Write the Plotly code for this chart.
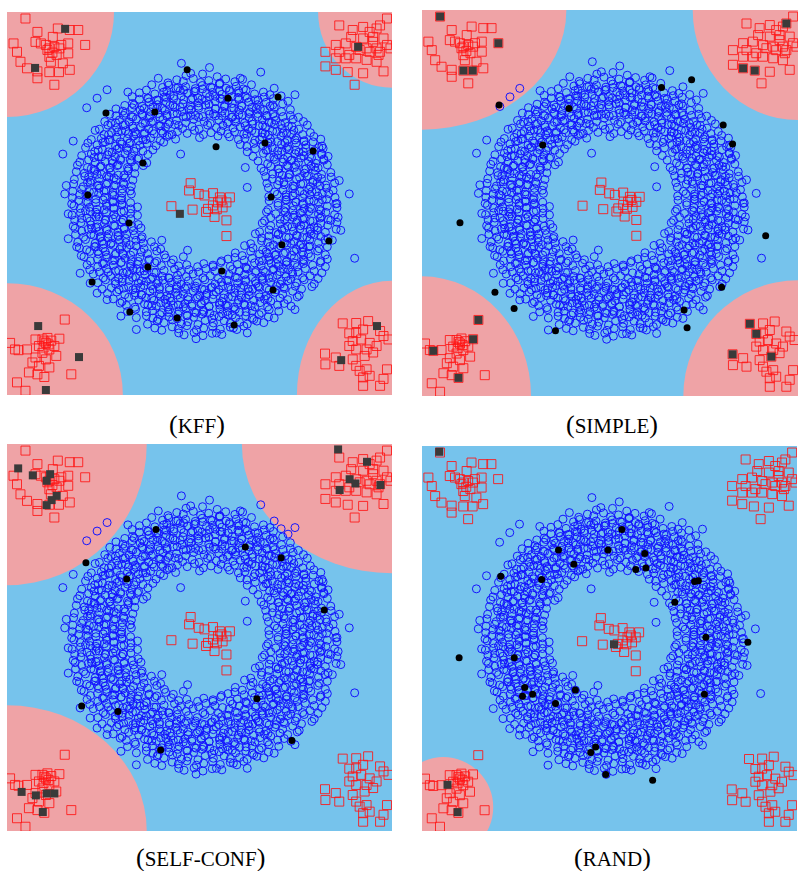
import plotly.graph_objects as go

# ---------------- data (panel units: x 0..100 left->right, y 0..100 top->bottom) -------------
panel_titles = ["KFF", "SIMPLE", "SELF-CONF", "RAND"]

# blue class: ring of points
ring_points = [
    (46.5,16.6),(50.8,16.2),(54.6,16.9),
    (41.8,18.5),(44.1,17.7),(45.8,18.1),(48.4,17.4),(50.3,18.4),(52.4,17.9),(55.2,18.6),(56.8,17.5),(59.2,18.2),(61.2,17.6),
    (37.6,19.0),(40.4,19.7),(42.0,19.1),(44.4,19.8),(46.4,19.5),(48.9,20.0),(50.7,19.2),(52.9,19.6),(55.2,18.9),(56.9,19.9),(59.5,19.4),(61.4,20.1),(63.5,19.0),
    (34.4,21.1),(36.2,20.4),(38.4,21.4),(40.7,20.9),(42.4,21.6),(45.0,20.5),(46.9,21.2),(49.0,20.6),(51.8,21.3),(53.4,21.0),(55.8,21.5),(57.8,20.7),(60.3,21.1),(62.1,20.4),(64.3,21.4),(66.6,20.9),(68.3,21.6),
    (32.5,22.1),(34.4,22.8),(36.5,22.5),(39.3,23.0),(40.9,22.2),(43.3,22.6),(45.3,21.9),(47.8,22.9),(49.6,22.4),(51.8,23.1),(54.1,22.0),(55.8,22.7),(58.4,22.1),(60.3,22.8),(62.4,22.5),(65.2,23.0),(66.8,22.2),(69.2,22.6),(71.2,21.9),
    (30.6,24.4),(32.6,23.9),(35.1,24.6),(36.9,23.5),(39.1,24.2),(41.4,23.6),(43.1,24.3),(45.7,24.0),(47.6,24.5),(49.7,23.7),(52.5,24.1),(54.1,23.4),(56.5,24.4),(58.5,23.9),(61.0,24.6),(62.8,23.5),(65.0,24.2),(67.3,23.6),(69.0,24.3),(71.6,24.0),
    (28.3,25.3),(30.1,25.9),(32.5,25.0),(34.6,25.6),(37.3,26.1),(38.9,25.2),(41.1,25.7),(43.6,24.9),(45.5,26.0),(47.8,25.5),(49.8,25.1),(52.4,25.8),(54.1,25.3),(55.9,25.9),(58.3,25.0),(60.4,25.6),(63.1,26.1),(64.7,25.2),(66.9,25.7),(69.4,24.9),(71.3,26.0),(73.6,25.5),
    (26.7,26.7),(28.3,27.1),(30.7,26.4),(32.7,27.4),(35.2,26.9),(37.0,27.6),(39.2,26.5),(41.5,27.2),(43.2,26.6),(45.8,27.3),(47.7,27.0),(49.8,27.5),(52.6,26.7),(54.2,27.1),(56.6,26.4),(58.6,27.4),(61.1,26.9),(62.9,27.6),(65.1,26.5),(67.4,27.2),(69.1,26.6),(71.7,27.3),(73.6,27.0),(75.7,27.5),
    (25.4,28.6),(27.0,29.1),(29.2,28.2),(31.7,28.7),(33.6,27.9),(35.9,29.0),(37.9,28.5),(40.5,28.1),(42.2,28.8),(44.0,28.3),(46.4,28.9),(48.5,28.0),(51.2,28.6),(52.8,29.1),(55.0,28.2),(57.5,28.7),(59.4,27.9),(61.7,29.0),(63.7,28.5),(66.3,28.1),(68.0,28.8),(69.8,28.3),(72.2,28.9),(74.3,28.0),(77.0,28.6),
    (24.0,30.6),(26.2,29.5),(28.5,30.2),(30.2,29.6),(32.8,30.3),(34.7,30.0),(36.8,30.5),(39.6,29.7),(41.2,30.1),(43.6,29.4),(45.6,30.4),(48.1,29.9),(49.9,30.6),(52.1,29.5),(54.4,30.2),(56.1,29.6),(58.7,30.3),(60.6,30.0),(62.7,30.5),(65.5,29.7),(67.1,30.1),(69.5,29.4),(71.5,30.4),(74.0,29.9),(75.8,30.6),(78.0,29.5),
    (22.9,30.9),(25.2,32.0),(27.2,31.5),(29.8,31.1),(31.5,31.8),(33.3,31.3),(35.7,31.9),(37.8,31.0),(40.5,31.6),(42.1,32.1),(44.3,31.2),(46.8,31.7),(48.7,30.9),(51.0,32.0),(53.0,31.5),(55.6,31.1),(57.3,31.8),(59.1,31.3),(61.5,31.9),(63.6,31.0),(66.3,31.6),(67.9,32.1),(70.1,31.2),(72.6,31.7),(74.5,30.9),(76.8,32.0),(78.8,31.5),
    (21.9,33.3),(24.5,33.0),(26.4,33.5),(28.5,32.7),(31.3,33.1),(32.9,32.4),(35.3,33.4),(37.3,32.9),(39.8,33.6),(41.6,32.5),(43.8,33.2),
    (57.8,32.6),(60.1,33.3),(61.8,33.0),(64.4,33.5),(66.3,32.7),(68.4,33.1),(71.2,32.4),(72.8,33.4),(75.2,32.9),(77.2,33.6),(79.7,32.5),(81.5,33.2),
    (21.0,34.2),(23.4,34.7),(25.5,33.9),(28.2,35.0),(29.8,34.5),(32.0,34.1),(34.5,34.8),(36.4,34.3),(38.7,34.9),(40.7,34.0),
    (60.6,34.6),(62.3,35.1),(64.1,34.3),(66.5,34.9),(68.6,34.0),(71.3,34.6),(72.9,35.1),(75.1,34.2),(77.6,34.7),(79.5,33.9),(81.8,35.0),
    (20.4,35.4),(22.8,36.4),(24.8,35.9),(27.3,36.6),(29.1,35.5),(31.3,36.2),(33.6,35.6),(35.3,36.3),(37.9,36.0),
    (62.4,36.5),(64.5,35.7),(67.3,36.1),(68.9,35.4),(71.3,36.4),(73.3,35.9),(75.8,36.6),(77.6,35.5),(79.8,36.2),(82.1,35.6),
    (19.4,37.5),(21.9,37.1),(23.8,37.8),(26.1,37.3),(28.1,37.9),(30.7,37.0),(32.4,37.6),(34.2,38.1),(36.6,37.2),
    (63.9,37.7),(66.6,36.9),(68.2,38.0),(70.4,37.3),(72.9,37.9),(74.8,37.0),(77.1,37.6),(79.1,38.1),(81.7,37.2),(83.4,37.7),
    (18.9,39.2),(21.2,38.6),(22.9,39.3),(25.5,39.0),(27.4,39.5),(29.5,38.7),(32.3,39.1),(33.9,38.4),(36.3,39.4),
    (65.2,38.9),(67.7,39.6),(69.5,38.5),(71.7,39.2),(74.0,38.6),(75.7,39.3),(78.3,39.0),(80.2,39.5),(82.3,38.7),
    (18.3,40.0),(20.9,40.6),(22.6,41.1),(24.4,40.2),(26.8,40.7),(28.9,39.9),(31.6,41.0),(33.2,40.5),(35.4,40.1),
    (66.0,40.8),(68.5,40.3),(70.4,40.9),(72.7,40.0),(74.7,40.6),(77.3,41.1),(79.0,40.2),(80.8,40.7),(83.2,39.9),
    (18.0,41.7),(20.1,42.1),(22.9,41.4),(24.5,42.4),(26.9,41.9),(28.9,42.6),(31.4,41.5),(33.2,42.2),
    (66.7,41.6),(69.0,42.3),(70.7,42.0),(73.3,42.5),(75.2,41.7),(77.3,42.1),(80.1,41.4),(81.7,42.4),(84.1,41.9),
    (17.5,43.7),(20.2,42.9),(21.8,44.0),(24.0,43.5),(26.5,43.1),(28.4,43.8),(30.7,43.3),(32.7,43.9),
    (67.2,43.0),(68.9,43.6),(70.7,44.1),(73.1,43.2),(75.2,43.7),(77.9,42.9),(79.5,44.0),(81.7,43.5),(84.2,43.1),
    (17.3,44.9),(19.8,45.6),(21.6,44.5),(23.8,45.2),(26.1,44.6),(27.8,45.3),(30.4,45.0),(32.3,45.5),
    (67.5,44.7),(70.3,45.1),(71.9,44.4),(74.3,45.4),(76.3,44.9),(78.8,45.6),(80.6,44.5),(82.8,45.2),(85.1,44.6),
    (17.1,46.8),(19.4,46.3),(21.4,46.9),(24.0,46.0),(25.7,46.6),(27.5,47.1),(29.9,46.2),(32.0,46.7),
    (67.9,45.9),(69.5,47.0),(71.7,46.5),(74.2,46.1),(76.1,46.8),(78.4,46.3),(80.4,46.9),(83.0,46.0),(84.7,46.6),
    (17.0,48.5),(18.9,47.7),(21.0,48.1),(23.8,47.4),(25.4,48.4),(27.8,47.9),(29.8,48.6),(32.3,47.5),
    (68.0,48.2),(70.2,47.6),(72.5,48.3),(74.2,48.0),(76.8,48.5),(78.7,47.7),(80.8,48.1),(83.6,47.4),(85.2,48.4),
    (16.8,50.1),(18.6,49.2),(21.0,49.7),(23.1,48.9),(25.8,50.0),(27.4,49.5),(29.6,49.1),(32.1,49.8),
    (68.1,49.3),(70.4,49.9),(72.4,49.0),(75.0,49.6),(76.7,50.1),(78.5,49.2),(80.9,49.7),(83.0,48.9),(85.7,50.0),
    (17.4,50.6),(19.0,51.3),(21.4,51.0),(23.4,51.5),(25.9,50.7),(27.7,51.1),(29.9,50.4),(32.2,51.4),(33.9,50.9),
    (67.8,51.6),(70.4,50.5),(72.3,51.2),(74.4,50.6),(77.2,51.3),(78.8,51.0),(81.2,51.5),(83.2,50.7),(85.7,51.1),
    (16.9,53.0),(19.1,52.5),(21.6,52.1),(23.5,52.8),(25.8,52.3),(27.8,52.9),(30.4,52.0),(32.1,52.6),(33.9,53.1),
    (67.4,52.2),(69.8,52.7),(71.9,51.9),(74.6,53.0),(76.2,52.5),(78.4,52.1),(80.9,52.8),(82.8,52.3),(85.1,52.9),
    (17.6,54.4),(19.4,53.9),(21.6,54.6),(23.9,53.5),(25.6,54.2),(28.2,53.6),(30.1,54.3),(32.2,54.0),
    (66.9,54.5),(68.5,53.7),(70.9,54.1),(72.9,53.4),(75.4,54.4),(77.2,53.9),(79.4,54.6),(81.7,53.5),(83.4,54.2),(86.0,53.6),
    (17.2,55.9),(19.2,55.0),(21.8,55.6),(23.5,56.1),(25.3,55.2),(27.7,55.7),(29.8,54.9),(32.5,56.0),(34.1,55.5),
    (66.3,55.1),(68.5,55.8),(71.0,55.3),(72.9,55.9),(75.2,55.0),(77.2,55.6),(79.8,56.1),(81.5,55.2),(83.3,55.7),(85.7,54.9),
    (17.7,56.5),(19.4,57.2),(22.0,56.6),(23.9,57.3),(26.0,57.0),(28.8,57.5),(30.4,56.7),(32.8,57.1),(34.8,56.4),
    (65.6,57.4),(68.1,56.9),(69.9,57.6),(72.1,56.5),(74.4,57.2),(76.1,56.6),(78.7,57.3),(80.6,57.0),(82.7,57.5),(85.5,56.7),
    (17.8,58.1),(19.9,58.8),(22.6,58.3),(24.2,58.9),(26.4,58.0),(28.9,58.6),(30.8,59.1),(33.1,58.2),(35.1,58.7),
    (64.5,57.9),(66.2,59.0),(68.0,58.5),(70.4,58.1),(72.5,58.8),(75.2,58.3),(76.8,58.9),(79.0,58.0),(81.5,58.6),(83.4,59.1),
    (18.4,60.1),(20.4,59.4),(22.9,60.4),(24.7,59.9),(26.9,60.6),(29.2,59.5),(30.9,60.2),(33.5,59.6),(35.4,60.3),(37.5,60.0),
    (63.3,60.5),(66.1,59.7),(67.7,60.1),(70.1,59.4),(72.1,60.4),(74.6,59.9),(76.4,60.6),(78.6,59.5),(80.9,60.2),(82.6,59.6),
    (18.8,61.6),(20.7,62.1),(23.0,61.2),(25.0,61.7),(27.6,60.9),(29.3,62.0),(31.1,61.5),(33.5,61.1),(35.6,61.8),(38.3,61.3),(39.9,61.9),
    (61.7,61.0),(63.9,61.6),(66.4,62.1),(68.3,61.2),(70.6,61.7),(72.6,60.9),(75.2,62.0),(76.9,61.5),(78.7,61.1),(81.1,61.8),(83.2,61.3),
    (19.3,63.6),(21.5,62.5),(23.8,63.2),(25.5,62.6),(28.1,63.3),(30.0,63.0),(32.1,63.5),(34.9,62.7),(36.5,63.1),(38.9,62.4),(40.9,63.4),
    (59.3,62.9),(61.1,63.6),(63.3,62.5),(65.6,63.2),(67.3,62.6),(69.9,63.3),(71.8,63.0),(73.9,63.5),(76.7,62.7),(78.3,63.1),(80.7,62.4),(82.7,63.4),
    (20.0,63.9),(21.7,65.0),(23.5,64.5),(25.9,64.1),(28.0,64.8),(30.7,64.3),(32.3,64.9),(34.5,64.0),(37.0,64.6),(38.9,65.1),(41.2,64.2),(43.2,64.7),(45.8,63.9),
    (55.7,65.0),(57.4,64.5),(59.2,64.1),(61.6,64.8),(63.7,64.3),(66.4,64.9),(68.0,64.0),(70.2,64.6),(72.7,65.1),(74.6,64.2),(76.9,64.7),(78.9,63.9),(81.5,65.0),(83.2,64.5),
    (20.8,66.0),(23.6,66.5),(25.2,65.7),(27.6,66.1),(29.6,65.4),(32.1,66.4),(33.9,65.9),(36.1,66.6),(38.4,65.5),(40.1,66.2),(42.7,65.6),(44.6,66.3),(46.7,66.0),(49.5,66.5),(51.1,65.7),(53.5,66.1),(55.5,65.4),(58.0,66.4),(59.8,65.9),(62.0,66.6),(64.3,65.5),(66.0,66.2),(68.6,65.6),(70.5,66.3),(72.6,66.0),(75.4,66.5),(77.0,65.7),(79.4,66.1),(81.4,65.4),
    (21.5,67.3),(24.0,67.9),(25.9,67.0),(28.2,67.6),(30.2,68.1),(32.8,67.2),(34.5,67.7),(36.3,66.9),(38.7,68.0),(40.8,67.5),(43.5,67.1),(45.1,67.8),(47.3,67.3),(49.8,67.9),(51.7,67.0),(54.0,67.6),(56.0,68.1),(58.6,67.2),(60.3,67.7),(62.1,66.9),(64.5,68.0),(66.6,67.5),(69.3,67.1),(70.9,67.8),(73.1,67.3),(75.6,67.9),(77.5,67.0),(79.8,67.6),(81.8,68.1),
    (22.4,68.4),(25.0,69.4),(26.9,68.9),(29.0,69.6),(31.8,68.5),(33.4,69.2),(35.8,68.6),(37.8,69.3),(40.3,69.0),(42.1,69.5),(44.3,68.7),(46.6,69.1),(48.3,68.4),(50.9,69.4),(52.8,68.9),(54.9,69.6),(57.7,68.5),(59.3,69.2),(61.7,68.6),(63.7,69.3),(66.2,69.0),(68.0,69.5),(70.2,68.7),(72.5,69.1),(74.2,68.4),(76.8,69.4),(78.7,68.9),(80.8,69.6),
    (23.6,70.7),(25.6,69.9),(28.2,71.0),(29.9,70.5),(31.7,70.1),(34.1,70.8),(36.2,70.3),(38.9,70.9),(40.5,70.0),(42.7,70.6),(45.2,71.1),(47.1,70.2),(49.4,70.7),(51.4,69.9),(54.0,71.0),(55.7,70.5),(57.5,70.1),(59.9,70.8),(62.0,70.3),(64.7,70.9),(66.3,70.0),(68.5,70.6),(71.0,71.1),(72.9,70.2),(75.2,70.7),(77.2,69.9),(79.8,71.0),
    (24.7,72.3),(27.1,72.0),(29.1,72.5),(31.6,71.7),(33.4,72.1),(35.6,71.4),(37.9,72.4),(39.6,71.9),(42.2,72.6),(44.1,71.5),(46.2,72.2),(49.0,71.6),(50.6,72.3),(53.0,72.0),(55.0,72.5),(57.5,71.7),(59.3,72.1),(61.5,71.4),(63.8,72.4),(65.5,71.9),(68.1,72.6),(70.0,71.5),(72.1,72.2),(74.9,71.6),(76.5,72.3),
    (26.1,73.5),(28.5,73.1),(30.6,73.8),(33.3,73.3),(34.9,73.9),(37.1,73.0),(39.6,73.6),(41.5,74.1),(43.8,73.2),(45.8,73.7),(48.4,72.9),(50.1,74.0),(51.9,73.5),(54.3,73.1),(56.4,73.8),(59.1,73.3),(60.7,73.9),(62.9,73.0),(65.4,73.6),(67.3,74.1),(69.6,73.2),(71.6,73.7),(74.2,72.9),(75.9,74.0),
    (27.6,74.9),(29.9,75.6),(31.6,74.5),(34.2,75.2),(36.1,74.6),(38.2,75.3),(41.0,75.0),(42.6,75.5),(45.0,74.7),(47.0,75.1),(49.5,74.4),(51.3,75.4),(53.5,74.9),(55.8,75.6),(57.5,74.5),(60.1,75.2),(62.0,74.6),(64.1,75.3),(66.9,75.0),(68.5,75.5),(70.9,74.7),(72.9,75.1),(75.4,74.4),
    (29.4,76.0),(31.0,76.6),(33.2,77.1),(35.7,76.2),(37.6,76.7),(39.9,75.9),(41.9,77.0),(44.5,76.5),(46.2,76.1),(48.0,76.8),(50.4,76.3),(52.5,76.9),(55.2,76.0),(56.8,76.6),(59.0,77.1),(61.5,76.2),(63.4,76.7),(65.7,75.9),(67.7,77.0),(70.3,76.5),(72.0,76.1),(73.8,76.8),
    (31.3,78.2),(33.4,77.6),(36.2,78.3),(37.8,78.0),(40.2,78.5),(42.2,77.7),(44.7,78.1),(46.5,77.4),(48.7,78.4),(51.0,77.9),(52.7,78.6),(55.3,77.5),(57.2,78.2),(59.3,77.6),(62.1,78.3),(63.7,78.0),(66.1,78.5),(68.1,77.7),(70.6,78.1),
    (33.6,79.8),(36.2,79.3),(37.9,79.9),(39.7,79.0),(42.1,79.6),(44.2,80.1),(46.9,79.2),(48.5,79.7),(50.7,78.9),(53.2,80.0),(55.1,79.5),(57.4,79.1),(59.4,79.8),(62.0,79.3),(63.7,79.9),(65.5,79.0),(67.9,79.6),
    (36.5,81.5),(39.0,80.7),(40.8,81.1),(43.0,80.4),(45.3,81.4),(47.0,80.9),(49.6,81.6),(51.5,80.5),(53.6,81.2),(56.4,80.6),(58.0,81.3),(60.4,81.0),(62.4,81.5),(64.9,80.7),(66.7,81.1),
    (40.2,83.1),(42.9,82.2),(44.5,82.7),(46.7,81.9),(49.2,83.0),(51.1,82.5),(53.4,82.1),(55.4,82.8),(58.0,82.3),(59.7,82.9),(61.5,82.0),
    (46.0,84.3),(48.6,83.7),(50.9,84.5),(53.3,83.9),(55.8,84.2),
]

# denser core of the ring (the darker band in the picture)
ring_core = [
    (41.5,20.6),(43.9,19.9),(45.9,20.4),(48.6,20.8),(50.8,20.1),(53.3,19.8),(55.2,20.7),(57.8,20.3),(60.1,20.6),
    (36.7,22.6),(38.9,23.0),(41.4,22.3),(43.3,22.0),(45.9,22.9),(48.2,22.5),(50.6,22.8),(52.6,22.1),(55.3,22.6),(57.5,23.0),(60.0,22.3),(61.9,22.0),(64.5,22.9),
    (33.0,24.3),(35.6,25.2),(37.9,24.8),(40.3,25.1),(42.3,24.4),(45.0,24.9),(47.2,25.3),(49.7,24.6),(51.6,24.3),(54.2,25.2),(56.5,24.8),(58.9,25.1),(60.9,24.4),(63.6,24.9),(65.8,25.3),(68.3,24.6),
    (30.3,27.0),(32.3,27.3),(35.0,26.6),(37.2,27.1),(39.7,27.5),(41.6,26.8),(44.2,26.5),(46.5,27.4),(48.9,27.0),(50.9,27.3),(53.6,26.6),(55.8,27.1),(58.3,27.5),(60.2,26.8),(62.8,26.5),(65.1,27.4),(67.5,27.0),(69.5,27.3),
    (28.2,28.9),(30.7,29.4),(32.6,29.8),(35.2,29.1),(37.5,28.8),(39.9,29.7),(41.9,29.3),(44.6,29.6),
    (57.2,29.1),(59.4,28.8),(61.9,29.7),(63.8,29.3),(66.4,29.6),(68.7,28.9),(71.1,29.4),(73.1,29.8),
    (26.4,32.0),(28.8,31.3),(30.8,31.0),(33.5,31.9),(35.7,31.5),(38.2,31.8),(40.1,31.1),
    (62.3,31.9),(64.6,31.5),(67.0,31.8),(69.0,31.1),(71.7,31.6),(73.9,32.0),
    (24.9,34.1),(26.8,33.4),(29.4,33.9),(31.7,34.3),(34.1,33.6),(36.1,33.3),
    (65.6,33.3),(67.8,34.2),(70.3,33.8),(72.2,34.1),(74.8,33.4),(77.1,33.9),
    (23.7,36.1),(26.4,36.5),(28.6,35.8),(31.1,35.5),(33.0,36.4),
    (67.7,36.0),(70.3,36.3),(72.6,35.6),(75.0,36.1),(77.0,36.5),
    (22.6,38.0),(24.6,37.8),(27.3,38.7),(29.5,38.3),(32.0,38.6),
    (69.3,37.9),(71.8,38.4),(73.7,38.8),(76.3,38.1),(78.6,37.8),
    (21.9,40.9),(24.2,40.5),(26.6,40.8),(28.6,40.1),(31.3,40.6),
    (70.6,41.0),(73.0,40.3),(75.0,40.0),(77.7,40.9),(79.9,40.5),
    (21.2,43.1),(23.4,42.4),(25.9,42.9),(27.8,43.3),(30.4,42.6),
    (71.5,42.6),(73.4,42.3),(76.0,43.2),(78.3,42.8),(80.7,43.1),
    (20.9,44.5),(23.5,45.4),(25.8,45.0),(28.2,45.3),(30.2,44.6),
    (72.0,45.1),(74.7,45.5),(76.9,44.8),(79.4,44.5),(81.3,45.4),
    (20.5,47.8),(22.5,47.1),(25.2,46.8),(27.4,47.7),(29.9,47.3),
    (72.5,47.7),(74.8,47.3),(77.2,47.6),(79.2,46.9),(81.9,47.4),
    (20.6,49.5),(23.1,49.8),(25.0,49.1),(27.6,49.6),(29.9,50.0),
    (72.6,49.1),(75.0,49.6),(77.0,50.0),(79.7,49.3),(81.9,49.0),
    (20.4,51.9),(23.1,52.3),(25.3,51.6),(27.8,51.3),(29.7,52.2),
    (72.3,52.2),(74.2,51.8),(76.8,52.1),(79.1,51.4),(81.5,51.9),
    (20.8,53.8),(23.1,53.5),(25.5,54.4),(27.5,54.0),(30.2,54.3),
    (72.1,54.3),(74.3,53.6),(76.8,54.1),(78.7,54.5),(81.3,53.8),
    (21.1,56.7),(23.1,56.3),(25.8,56.6),(28.0,55.9),(30.5,56.4),
    (71.4,56.8),(74.0,56.1),(76.3,55.8),(78.7,56.7),(80.7,56.3),
    (21.8,58.1),(24.3,58.6),(26.2,59.0),(28.8,58.3),(31.1,58.0),
    (70.5,58.0),(73.2,58.9),(75.4,58.5),(77.9,58.8),(79.8,58.1),
    (22.7,61.3),(25.1,60.6),(27.1,60.3),(29.8,61.2),(32.0,60.8),
    (69.2,60.8),(71.1,61.1),(73.7,60.4),(76.0,60.9),(78.4,61.3),
    (23.6,62.5),(25.8,63.4),(28.3,63.0),(30.2,63.3),(32.8,62.6),
    (67.6,63.1),(69.6,63.5),(72.3,62.8),(74.5,62.5),(77.0,63.4),
    (24.8,65.6),(27.4,64.9),(29.7,65.4),(32.1,65.8),(34.1,65.1),(36.8,64.8),
    (65.5,65.1),(68.0,64.8),(69.9,65.7),(72.5,65.3),(74.8,65.6),(77.2,64.9),
    (26.3,67.9),(29.0,67.5),(31.2,67.8),(33.7,67.1),(35.6,67.6),(38.2,68.0),
    (62.4,67.1),(64.7,67.6),(67.1,68.0),(69.1,67.3),(71.8,67.0),(74.0,67.9),
    (28.1,70.3),(30.0,69.6),(32.6,69.3),(34.9,70.2),(37.3,69.8),(39.3,70.1),(42.0,69.4),(44.2,69.9),
    (57.1,70.1),(59.8,69.4),(62.0,69.9),(64.5,70.3),(66.4,69.6),(69.0,69.3),(71.3,70.2),(73.7,69.8),
    (30.3,72.1),(32.7,72.5),(34.7,71.8),(37.4,71.5),(39.6,72.4),(42.1,72.0),(44.0,72.3),(46.6,71.6),(48.9,72.1),(51.3,72.5),
    (53.3,71.8),(56.0,71.5),(58.2,72.4),(60.7,72.0),(62.6,72.3),(65.2,71.6),(67.5,72.1),(69.9,72.5),(71.9,71.8),
    (33.1,74.0),(35.0,73.8),(37.6,74.7),(39.9,74.3),(42.3,74.6),(44.3,73.9),(47.0,74.4),(49.2,74.8),
    (51.7,74.0),(53.6,73.8),(56.2,74.7),(58.5,74.3),(60.9,74.6),(62.9,73.9),(65.6,74.4),(67.8,74.8),
    (36.6,76.5),(38.8,76.8),(41.3,76.1),(43.2,76.6),(45.8,77.0),(48.1,76.3),(50.5,76.0),(52.5,76.9),
    (55.2,76.5),(57.4,76.8),(59.9,76.1),(61.8,76.6),(64.4,77.0),
    (41.8,78.4),(44.4,78.9),(46.7,79.3),(49.1,78.6),(51.1,78.3),(53.8,79.2),(56.0,78.8),(58.5,79.1),(60.4,78.4),
]

ring_outliers = [
    (45.3,13.4),(52.6,14.5),(47.7,16.0),(65.9,15.7),(74.8,21.6),(31.4,20.9),(55.3,18.6),(45.1,37.1),(50.0,32.8),
    (54.8,32.4),(42.9,32.0),(14.5,37.1),(15.4,45.3),(15.0,47.5),(15.9,59.2),(18.1,61.3),(20.7,25.0),(88.9,47.5),
    (90.3,64.3),(86.7,57.0),(82.7,66.5),(81.8,37.1),(82.3,38.4),(33.6,82.9),(44.6,83.8),(49.1,85.3),(54.4,83.8),
    (62.4,83.8),(38.4,82.5),(69.4,79.9),(74.8,77.7),(40.2,59.6),(46.9,62.2),(62.4,45.8),(61.9,40.6),(34.9,59.2),(53.5,66.5),
    (23.4,22.5),(26.0,20.3),(73.0,23.3),(84.1,54.4),(81.0,35.4),(23.4,73.4),(26.0,75.1),(21.6,70.8),(19.0,68.2),
    (15.9,52.7),(17.2,33.7),(85.4,50.1),(86.3,44.0),(84.5,59.6),(79.2,71.7),(64.1,80.3),(58.8,82.5),(39.3,80.3),
    (29.6,79.4),(39.3,17.3),(60.6,17.3),(69.4,19.9),
]

# red class: four corner clusters and a small centre cluster
red_points = [
    (4.8,1.7),(20.3,8.6),(11.0,15.7),(13.5,15.7),
    (7.9,5.2),(13.2,4.3),(16.3,4.7),(18.5,4.7),(11.9,6.5),(7.4,7.8),(8.8,8.2),(10.1,8.6),(11.0,9.5),(12.3,9.1),
    (14.1,8.6),(15.9,8.2),(1.7,8.2),(2.6,10.4),(10.5,9.9),(11.0,11.7),(13.6,9.5),(15.9,10.8),(3.5,13.0),(5.2,14.7),
    (7.9,15.5),(11.4,13.0),(14.5,13.4),(16.3,15.1),(7.9,17.3),(12.3,19.0),(11.8,10.6),(12.9,11.2),
    (96.9,3.5),(85.4,15.1),(88.5,15.7),
    (86.3,3.5),(89.8,4.7),(92.5,3.9),(94.2,5.2),(96.0,4.3),(98.7,1.7),(89.4,6.5),(92.5,6.9),(95.1,6.5),(97.8,6.9),
    (85.4,8.6),(88.0,8.2),(90.7,9.1),(93.4,9.5),(96.0,9.5),(98.7,8.6),(82.7,10.4),(86.3,10.4),(88.9,11.2),(91.6,9.9),
    (94.2,10.4),(96.9,10.4),(99.6,9.5),(85.4,12.1),(88.0,12.1),(90.7,12.1),(93.4,12.5),(96.0,13.0),(82.7,14.2),
    (92.5,16.0),(97.8,15.5),(90.3,19.0),(95.1,7.8),(96.5,11.2),
    (15.0,80.3),(13.6,85.3),(3.0,88.3),(9.7,95.3),
    (0.8,86.4),(2.1,88.1),(5.2,88.1),(7.4,85.5),(8.3,87.2),(10.1,86.4),(9.2,89.0),(11.0,88.1),(12.3,87.2),(7.4,90.2),
    (10.1,90.7),(6.6,91.5),(8.3,92.4),(5.7,94.1),(7.9,94.6),(11.0,92.8),(2.6,96.7),(4.8,98.9),(16.7,94.6),(12.8,89.8),
    (9.2,85.5),(10.5,85.1),(9.7,86.0),(10.8,86.8),(9.5,87.6),(11.5,85.8),
    (87.2,81.3),(88.9,83.9),(82.6,89.2),(92.9,89.8),
    (90.7,81.2),(93.8,80.7),(96.9,83.3),(97.8,84.6),(90.7,83.8),(92.5,82.9),(89.8,85.9),(92.0,85.5),(94.2,86.4),
    (96.0,87.2),(88.9,87.2),(90.7,88.1),(93.4,88.1),(95.1,88.9),(85.4,90.2),(82.7,92.0),(86.3,92.4),(89.8,90.7),
    (90.7,92.4),(93.4,93.3),(91.6,93.7),(92.5,95.4),(94.2,95.0),(98.7,93.3),(97.8,95.8),(92.5,97.6),(96.9,97.6),(99.1,85.5),
    (47.7,44.7),(47.3,46.6),(49.8,47.5),(51.3,47.9),(53.5,47.3),(55.3,48.4),(57.9,48.4),(57.0,49.7),(54.8,49.7),
    (53.5,50.5),(52.2,51.4),(51.7,52.2),(53.9,53.5),(57.0,54.4),(57.0,58.5),(42.7,50.7),(48.2,51.6),(55.7,49.2),
    (56.0,51.0),(54.5,51.5),
]

# labelled (queried) points per panel
labeled_blue = {
    "KFF": [(46.8,15.1),(25.7,26.4),(38.4,26.1),(35.3,39.4),(21.0,47.8),(57.4,22.5),(70.4,22.2),(54.3,35.2),(67.0,34.2),
            (79.5,36.3),(68.6,48.3),(31.7,55.1),(36.6,66.6),(22.1,70.5),(31.9,78.3),(44.2,79.9),(71.4,60.8),(83.6,59.8),
            (55.8,67.6),(69.1,72.6),(59.0,81.7)],
    "SIMPLE": [(20.5,24.6),(39.1,25.5),(63.7,20.1),(71.7,18.1),(80.1,29.8),(82.6,34.7),(32.1,35.0),(10.1,55.1),(91.4,58.5),
               (79.7,71.8),(19.4,73.1),(24.5,77.3),(69.7,77.7),(70.5,82.3),(35.5,83.1)],
    "SELF-CONF": [(38.7,22.1),(61.9,26.6),(71.2,29.4),(20.5,30.7),(31.1,34.9),(82.4,42.9),(64.9,65.8),(19.4,67.7),
                  (28.8,69.1),(74.0,76.6),(39.9,79.1)],
    "RAND": [(53.3,21.7),(36.4,27.0),(49.6,27.0),(59.4,27.9),(40.5,30.7),(57.0,32.1),(59.7,31.7),(21.0,33.8),(31.9,34.7),
             (72.7,35.2),(73.7,35.0),(67.4,40.6),(75.7,49.7),(86.9,51.0),(9.9,55.0),(24.6,55.0),(27.4,62.7),(26.8,65.0),
             (29.5,64.5),(40.9,63.4),(35.6,66.9),(75.3,64.5),(46.3,78.2),(45.0,79.6),(49.0,85.3),(61.5,86.8)],
}
labeled_red = {
    "KFF": [(15.1,4.4),(7.3,14.6),(91.2,9.1),(44.9,52.7),(8.1,82.0),(18.7,90.1),(10.1,98.7),(96.1,82.0),(86.8,90.9)],
    "SIMPLE": [(4.8,1.7),(20.3,8.6),(11.0,15.7),(13.5,15.7),(96.9,3.5),(85.4,15.1),(88.5,15.7),(15.0,80.3),(13.6,85.3),
               (3.0,88.3),(9.7,95.3),(87.2,81.3),(88.9,83.9),(82.6,89.2),(92.9,89.8)],
    "SELF-CONF": [(2.9,6.3),(6.7,8.1),(11.2,7.8),(10.3,9.5),(12.9,13.4),(11.6,14.5),(10.3,15.8),(86.0,1.4),(93.5,4.6),
                  (89.0,9.1),(90.5,10.2),(86.4,11.9),(97.0,10.6),(3.8,89.9),(7.5,90.8),(10.3,90.3),(12.3,90.3),(9.3,95.1)],
    "RAND": [(4.6,1.5),(51.2,51.5),(6.8,88.0),(9.5,95.1)],
}

# decision regions of the red class: (centre x, centre y, radius x, radius y)
red_regions = {
    "KFF": [(0,0,27.8,27.4),(100,0,19.2,19.8),(0,100,30.1,29.2),(100,100,24.7,29.8)],
    "SIMPLE": [(0,0,38.4,31.0),(100,0,28.0,28.5),(0,100,29.0,31.0),(100,100,30.5,30.0)],
    "SELF-CONF": [(0,0,36.3,36.5),(100,0,39.0,33.4),(0,100,36.3,32.5)],
    "RAND": [(5.7,93.8,13.3,13.0)],
}

# ---------------- layout / styling ----------------
W, H = 798, 871
panel_px_x = [(7, 392), (422, 798), (7, 392), (422, 797)]
panel_px_y = [(12, 395), (10, 396), (444, 831), (446, 831)]
label_px = [(197, 424), (612, 424), (200, 857), (612, 857)]

BG_BLUE = "rgb(118,195,236)"
BG_PINK = "rgb(239,163,166)"

fig = go.Figure()
layout = dict(width=W, height=H, margin=dict(l=0, r=0, t=0, b=0),
              paper_bgcolor="white", plot_bgcolor=BG_BLUE, showlegend=False,
              shapes=[], annotations=[])

def unzip(pts):
    return [p[0] for p in pts], [p[1] for p in pts]

rx_, ry_ = unzip(ring_points + ring_core + ring_outliers)
redx, redy = unzip(red_points)

for i, key in enumerate(panel_titles):
    n = "" if i == 0 else str(i + 1)
    xa, ya = "x" + n, "y" + n
    (x0, x1), (y0, y1) = panel_px_x[i], panel_px_y[i]
    layout["xaxis" + n] = dict(domain=[x0 / W, x1 / W], range=[0, 100], visible=False,
                               anchor=ya, fixedrange=True)
    layout["yaxis" + n] = dict(domain=[1 - y1 / H, 1 - y0 / H], range=[100, 0], visible=False,
                               anchor=xa, fixedrange=True)
    for (cx, cy, rx, ry) in red_regions[key]:
        layout["shapes"].append(dict(type="circle", xref=xa, yref=ya, x0=cx - rx, x1=cx + rx,
                                     y0=cy - ry, y1=cy + ry, fillcolor=BG_PINK,
                                     line=dict(width=0), layer="below"))
    fig.add_trace(go.Scatter(x=rx_, y=ry_, mode="markers", xaxis=xa, yaxis=ya, hoverinfo="skip",
                             marker=dict(symbol="circle-open", size=8, color="rgb(20,20,255)",
                                         line=dict(width=1))))
    fig.add_trace(go.Scatter(x=redx, y=redy, mode="markers", xaxis=xa, yaxis=ya, hoverinfo="skip",
                             marker=dict(symbol="square-open", size=9, color="rgba(255,20,20,0.85)",
                                         line=dict(width=1))))
    bx, by = unzip(labeled_blue[key])
    fig.add_trace(go.Scatter(x=bx, y=by, mode="markers", xaxis=xa, yaxis=ya, hoverinfo="skip",
                             marker=dict(symbol="circle", size=7, color="black")))
    sx, sy = unzip(labeled_red[key])
    fig.add_trace(go.Scatter(x=sx, y=sy, mode="markers", xaxis=xa, yaxis=ya, hoverinfo="skip",
                             marker=dict(symbol="square", size=8, color="rgb(58,58,58)",
                                         line=dict(width=0))))
    lx, ly = label_px[i]
    label = ("<span style='font-size:26px'>(</span>" + key +
             "<span style='font-size:26px'>)</span>")
    layout["annotations"].append(dict(text=label, xref="paper", yref="paper",
                                      x=lx / W, y=1 - ly / H, xanchor="center", yanchor="middle",
                                      showarrow=False,
                                      font=dict(family="Liberation Serif", size=21, color="black")))

fig.update_layout(**layout)
fig.write_html("out.html", config={"displayModeBar": False},
               post_script="document.body.style.margin='0px';")
